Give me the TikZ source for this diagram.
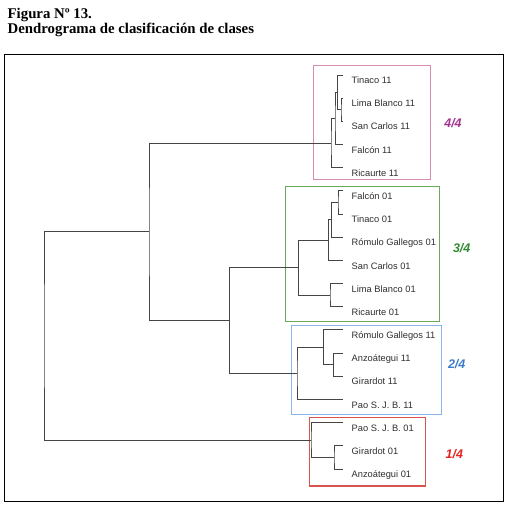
\documentclass[tikz,border=0pt]{standalone}
\usepackage{fontspec}
\setmainfont{Liberation Serif}
\newfontfamily\labfont{Liberation Sans}
\usepackage{tikz}
\usetikzlibrary{positioning}
\definecolor{branchgray}{HTML}{454545}
\definecolor{labgray}{HTML}{2e2e2e}
\definecolor{pinkbox}{HTML}{d98bb3}
\definecolor{greenbox}{HTML}{6aa85c}
\definecolor{bluebox}{HTML}{8bb5e8}
\definecolor{redbox}{HTML}{d9534f}
\definecolor{pinktxt}{HTML}{a3358f}
\definecolor{greentxt}{HTML}{2e8a30}
\definecolor{bluetxt}{HTML}{3b7bc8}
\definecolor{redtxt}{HTML}{e2231f}

\begin{document}
\begin{tikzpicture}[x=1pt, y=-1pt,
    branch/.style={draw=branchgray, line width=1pt},
    leaf/.style={anchor=base west, inner sep=0pt, text=labgray,
                 font=\labfont\fontsize{9.3}{11}\selectfont},
    clbox/.style={line width=1pt},
    share/.style={inner sep=0pt, font=\labfont\bfseries\itshape\fontsize{12.5}{14}\selectfont},
    caption/.style={anchor=base west, inner sep=0pt,
                    font=\bfseries\fontsize{14.8}{17}\selectfont}
]
    \useasboundingbox (0,0) rectangle (512,506);

    % titles
    \node[caption] (fig) at (7.5,18.3) {Figura Nº 13.};
    \node[caption] (desc) at (7.5,33.5) {Dendrograma de clasificación de clases};

    % frame
    \draw[line width=0.9pt] (4.7,54.7) rectangle (503,501);

    % cluster boxes
    \draw[clbox, draw=pinkbox]  (313.3,65)  rectangle (430,179);
    \draw[clbox, draw=greenbox] (285,186.7) rectangle (439.3,321.7);
    \draw[clbox, draw=bluebox]  (291,325)   rectangle (441.7,414);
    \draw[clbox, draw=redbox]   (309.3,417.7) rectangle (425.7,486.7);
    \draw[redbox, line width=2pt] (309.3,486.2) -- (425.7,486.2);

    \node[share, text=pinktxt]  (c44) at (453,123)   {4/4};
    \node[share, text=greentxt] (c34) at (461.7,248) {3/4};
    \node[share, text=bluetxt]  (c24) at (456.7,364) {2/4};
    \node[share, text=redtxt]   (c14) at (454.3,454) {1/4};

    % leaves
    \foreach \nm/\txt [count=\i from 0] in {t11/Tinaco 11, lb11/Lima Blanco 11,
        sc11/San Carlos 11, f11/Falcón 11, r11/Ricaurte 11, f01/Falcón 01,
        t01/Tinaco 01, rg01/Rómulo Gallegos 01, sc01/San Carlos 01,
        lb01/Lima Blanco 01, r01/Ricaurte 01, rg11/Rómulo Gallegos 11,
        a11/Anzoátegui 11, g11/Girardot 11, p11/Pao S. J. B. 11,
        p01/Pao S. J. B. 01, g01/Girardot 01, a01/Anzoátegui 01} {
        \coordinate (\nm) at (343,75+23.18*\i);
        \node[leaf] (\nm-lab) at (351.5,83.6+23.18*\i) {\txt};
    }

    % merge points
    \coordinate (p1) at (341,109.9);
    \coordinate (p2) at (337.5,92.4);
    \coordinate (p3) at (335,118.5);
    \coordinate (p4) at (331,143.1);
    \coordinate (g1) at (338,202.5);
    \coordinate (g2) at (331.7,219.9);
    \coordinate (g3) at (328.3,240.2);
    \coordinate (g4) at (330,295.2);
    \coordinate (g5) at (298.3,267.7);
    \coordinate (b1) at (333.3,364.7);
    \coordinate (b2) at (323.3,347.4);
    \coordinate (b3) at (297,373.4);
    \coordinate (r1) at (334,457.5);
    \coordinate (r2) at (311,440.1);
    \coordinate (mid) at (229.3,320.6);
    \coordinate (top) at (149,231.9);
    \coordinate (root) at (44,336);

    \foreach \n/\a/\b in {p1/lb11/sc11, p2/t11/p1, p3/p2/f11, p4/p3/r11,
        g1/f01/t01, g2/g1/rg01, g3/g2/sc01, g4/lb01/r01, g5/g3/g4,
        b1/a11/g11, b2/rg11/b1, b3/b2/p11, r1/g01/a01, r2/p01/r1,
        mid/g5/b3, top/p4/mid, root/top/r2}
        \draw[branch] (\a) -| (\n) |- (\b);
\end{tikzpicture}
\end{document}
